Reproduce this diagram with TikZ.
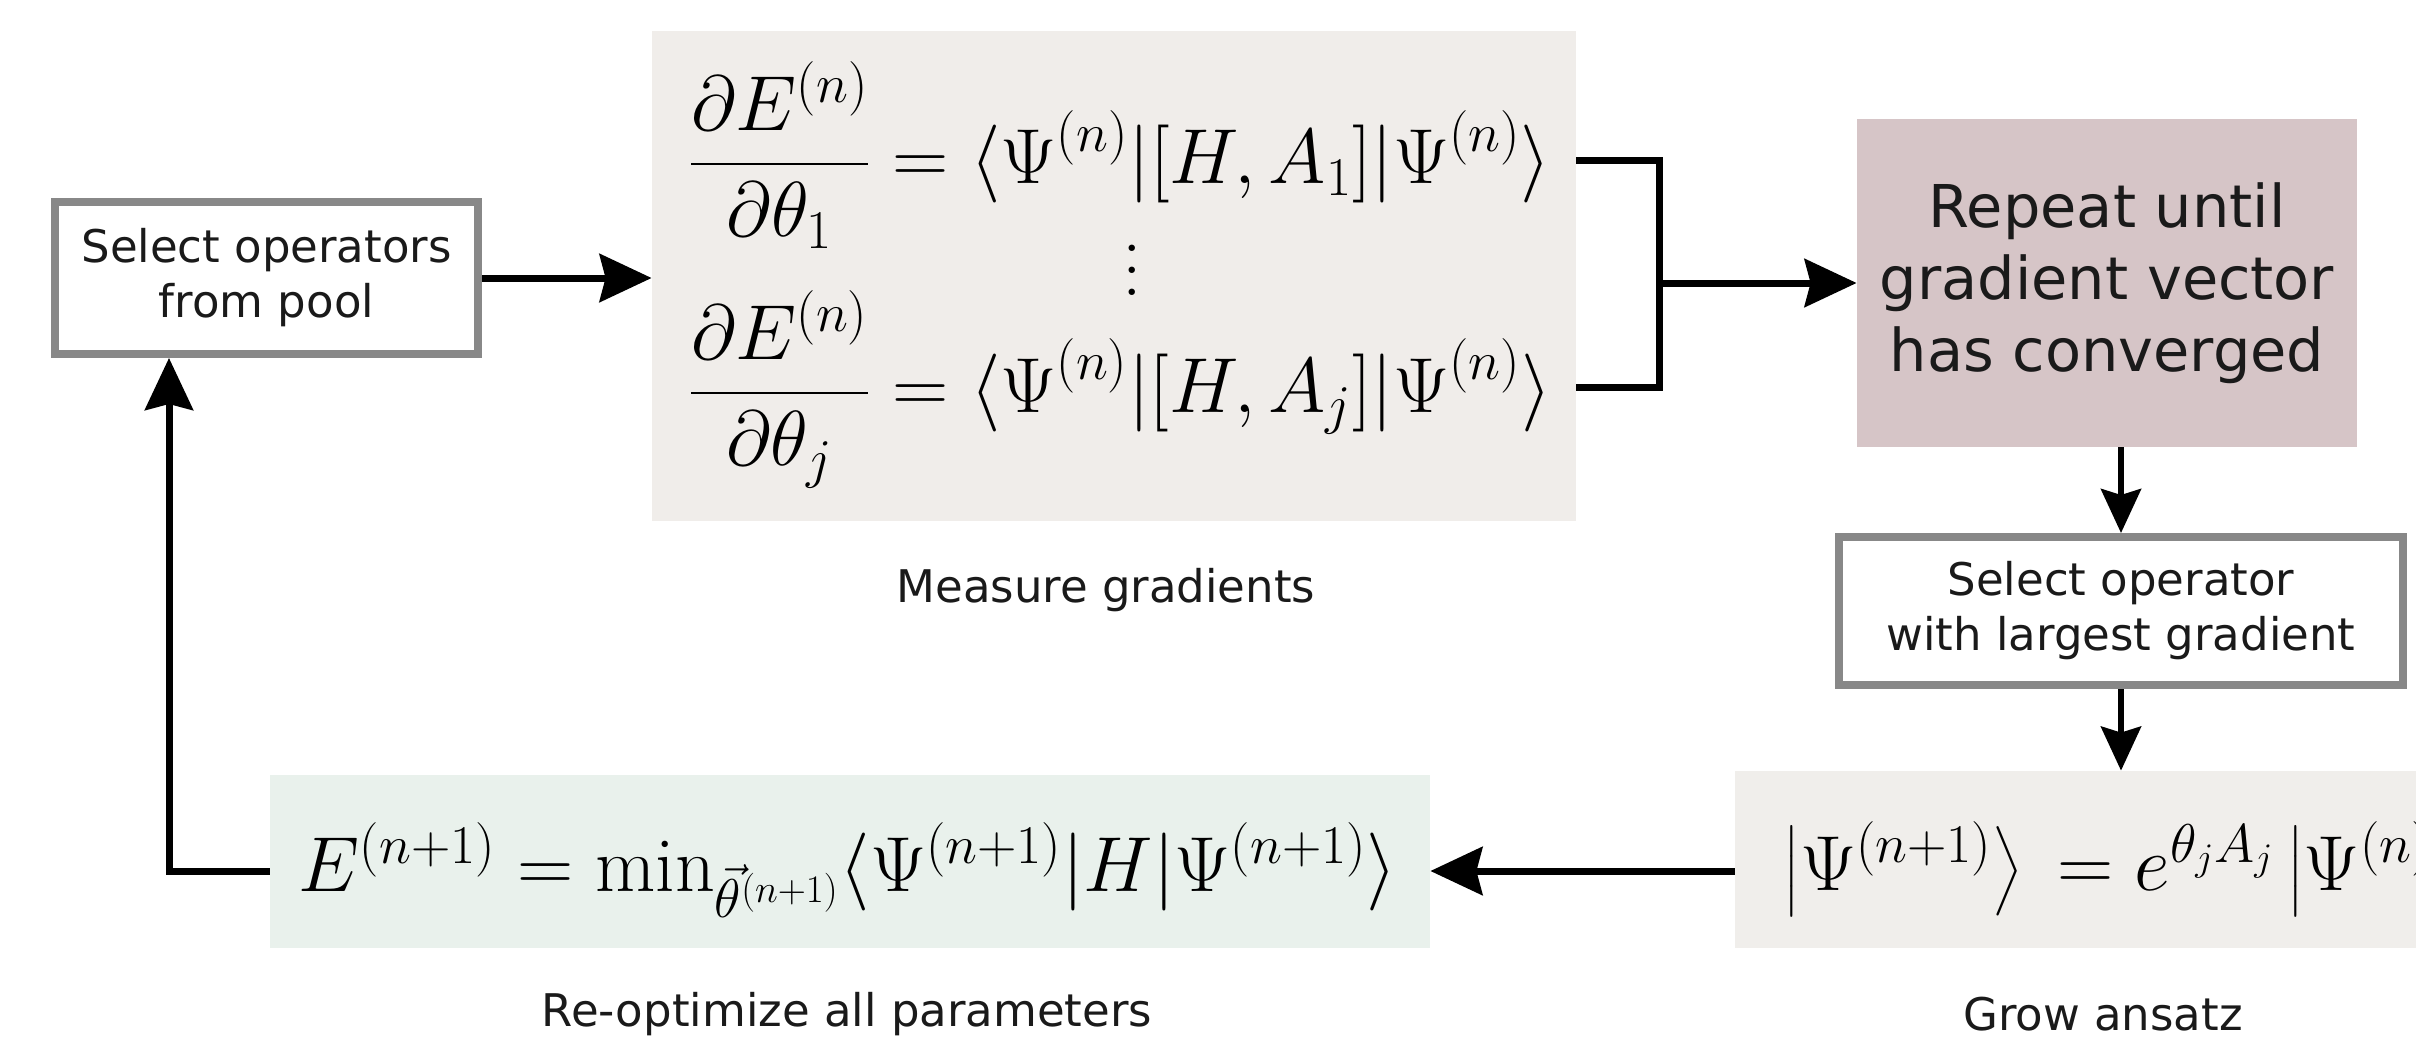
\RequirePackage{fix-cm}
\documentclass[tikz,border=0pt]{standalone}
\usepackage{amsmath}
\usepackage{fontspec}
\newfontfamily\dv{DejaVu Sans}
\usetikzlibrary{arrows.meta}
\definecolor{measfill}{HTML}{F0EDEA}
\definecolor{repfill}{HTML}{D6C5C7}
\definecolor{growfill}{HTML}{F0EEEB}
\definecolor{optfill}{HTML}{E9F1EC}
\definecolor{selgray}{HTML}{888888}
\definecolor{textc}{HTML}{1A1A1A}
\tikzset{
  selbox/.style={draw=selgray, line width=4pt, fill=white, align=center, inner sep=0pt,
    text=textc, font=\dv\fontsize{22.5}{27.5}\selectfont},
  fillbox/.style={draw=none, inner sep=0pt},
  lbl/.style={text=textc, inner sep=0pt, font=\dv\fontsize{22.5}{27}\selectfont},
  mathtxt/.style={inner sep=0pt, font=\fontsize{39}{46}\selectfont},
  conn/.style={line width=3.5pt},
  arr/.style={line width=3.5pt, -{Stealth[length=26pt,width=24pt,inset=3pt]}},
  darr/.style={line width=3pt, -{Stealth[length=22pt,width=20pt,inset=3pt]}},
}
\begin{document}
\begin{tikzpicture}[x=0.5pt,y=-0.5pt]
\useasboundingbox (0,0) rectangle (2416,1044);
\clip (0,0) rectangle (2416,1044);
% boxes
\node[selbox, minimum width=211.5pt, minimum height=76pt] (sel1) at (266.5,278) {Select operators\\from pool};
\node[fillbox, fill=measfill, minimum width=462pt, minimum height=245pt] (meas) at (1114,276) {};
\node[mathtxt] (eq1) at (1120,155) {$\displaystyle \frac{\partial E^{(n)}}{\partial\theta_1} = \langle\Psi^{(n)}|[H,A_1]|\Psi^{(n)}\rangle$};
\node[mathtxt] (dots) at (1132,270) {\vbox{\baselineskip=11pt\lineskiplimit=0pt\hbox{.}\hbox{.}\hbox{.}}};
\node[mathtxt] (eq2) at (1120,389) {$\displaystyle \frac{\partial E^{(n)}}{\partial\theta_j} = \langle\Psi^{(n)}|[H,A_j]|\Psi^{(n)}\rangle$};
\node[fillbox, fill=repfill, minimum width=250pt, minimum height=164pt, align=center, text=textc,
  font=\dv\fontsize{29.5}{36}\selectfont] (rep) at (2107,283) {Repeat until\\gradient vector\\has converged};
\node[selbox, minimum width=282pt, minimum height=74pt] (sel2) at (2121,611) {Select operator\\with largest gradient};
\node[fillbox, fill=growfill, minimum width=392.5pt, minimum height=88.5pt] (grow) at (2127.5,859.5) {};
\node[mathtxt, anchor=west] (groweq) at (1783,869) {$\left|\Psi^{(n+1)}\right\rangle\, = e^{\theta_j A_j}\left|\Psi^{(n)}\right\rangle$};
\node[fillbox, fill=optfill, minimum width=580pt, minimum height=86.5pt] (opt) at (850,861.5) {};
\node[mathtxt] (opteq) at (848,870) {$E^{(n+1)} = \min_{\vec{\theta}^{(n+1)}}\langle\Psi^{(n+1)}|H|\Psi^{(n+1)}\rangle$};
% labels
\node[lbl] (measlbl) at (1106,590) {Measure gradients};
\node[lbl] (optlbl) at (847,1014) {Re-optimize all parameters};
\node[lbl] (growlbl) at (2103,1014) {Grow ansatz};
% connectors
\coordinate (brk) at (1659,0);
\coordinate (loop) at (169,0);
\coordinate (lowy) at (0,871);
\coordinate (armA) at ([yshift=-2.5pt]eq1.east);
\coordinate (armB) at ([yshift=1pt]eq2.east);
\draw[arr] (sel1.east) -- (meas.west |- sel1.east);
\draw[conn, line join=miter] (meas.east |- armA) -- (brk |- armA) -- (brk |- armB) -- (meas.east |- armB);
\draw[arr] (brk |- rep.west) -- (rep.west);
\draw[darr] (sel2.north |- rep.south) -- (sel2.north);
\draw[darr] (sel2.south) -- (sel2.south |- grow.north);
\draw[arr] (grow.west |- lowy) -- (opt.east |- lowy);
\draw[arr, line join=miter] (opt.west |- lowy) -| (loop |- sel1.south);
\end{tikzpicture}
\end{document}
